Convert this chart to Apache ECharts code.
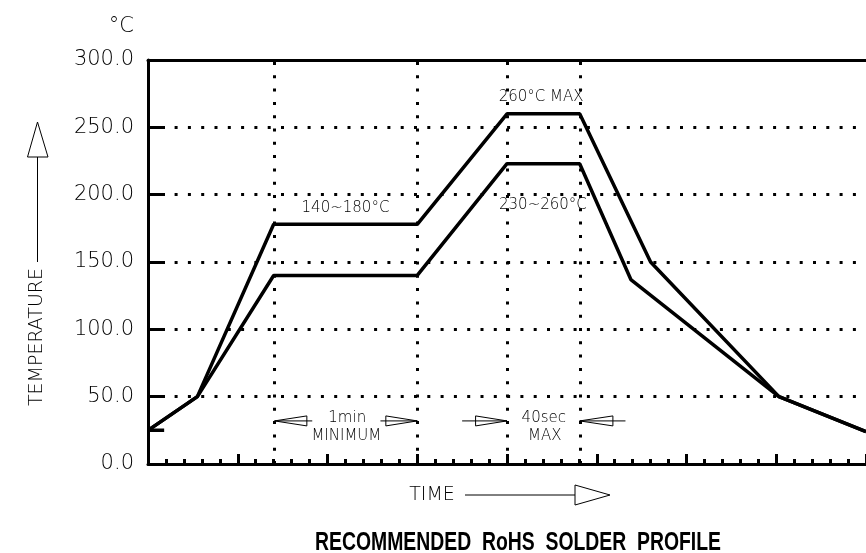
<!DOCTYPE html>
<html>
<head>
<meta charset="utf-8">
<script src="https://cdn.jsdelivr.net/npm/echarts@6/dist/echarts.min.js"></script>
<style>
html, body { margin: 0; padding: 0; background: #fff; }
#chart { width: 866px; height: 553px; }
</style>
</head>
<body>
<div id="chart"></div>
<script>
// time axis counted in minor ticks, temperature in °C
const upperProfile = [[0, 25], [2.75, 50], [7, 178], [15, 178], [20, 260], [24.05, 260], [28, 150], [35.15, 50], [40, 24]];
const lowerProfile = [[0, 25], [2.75, 50], [7, 140], [15, 140], [20, 223], [24.05, 223], [26.9, 137], [35.15, 50], [40, 24]];
const zoneMarks = [7.05, 15, 20, 24.1];
const startTick = [[0, 25], [0.9, 25]];
// [x, temp, text]
const notes = [
    [11.0, 190, '140~180°C'],
    [21.9, 272.5, '260°C MAX'],
    [22.0, 192, '230~260°C'],
    [11.1, 34, '1min'],
    [11.05, 20.8, 'MINIMUM'],
    [22.05, 34, '40sec'],
    [22.1, 20.8, 'MAX']
];
// [tip x, base x, tail x, temp]
const arrows = [
    [7.05, 8.85, 9.15, 32],
    [15, 13.25, 12.95, 32],
    [20, 18.25, 17.5, 32],
    [24.05, 25.9, 26.6, 32]
];
const titleText = 'RECOMMENDED  RoHS  SOLDER  PROFILE';

const thin = '"DejaVu Sans"';
const dots = [3, 10.3];

// squeeze the bold title to the narrow width of the original lettering
const titleFont = 'bold 25px "Liberation Sans", Arial, sans-serif';
const measure = document.createElement('canvas').getContext('2d');
measure.font = titleFont;
const titleScale = 406 / measure.measureText(titleText).width;

let chart = echarts.init(document.getElementById('chart'));

const option = {
    animation: false,
    grid: {left: 148, top: 60, width: 724, height: 404},
    xAxis: [
        {
            type: 'value',
            min: 0,
            max: 40,
            interval: 5,
            axisLine: {lineStyle: {color: '#000', width: 3}},
            axisTick: {inside: true, length: 10, lineStyle: {color: '#000', width: 3}},
            minorTick: {show: true, splitNumber: 5, length: 5, lineStyle: {color: '#000', width: 3}},
            axisLabel: {show: false},
            splitLine: {show: false}
        },
        {
            type: 'value',
            position: 'top',
            min: 0,
            max: 40,
            axisLine: {lineStyle: {color: '#000', width: 3}},
            axisTick: {show: false},
            axisLabel: {show: false},
            splitLine: {show: false}
        }
    ],
    yAxis: {
        type: 'value',
        min: 0,
        max: 300,
        interval: 50,
        axisLine: {show: true, lineStyle: {color: '#000', width: 3}},
        axisTick: {show: true, inside: true, length: 17, lineStyle: {color: '#000', width: 3}},
        axisLabel: {
            margin: 14,
            fontFamily: 'DejaVu Sans',
            fontWeight: 200,
            fontSize: 21,
            color: '#000',
            formatter: v => v.toFixed(1)
        },
        splitLine: {lineStyle: {color: '#000', width: 3, type: dots}}
    },
    graphic: [
        {type: 'text', x: 134, y: 27, style: {text: '°C', font: '200 21px ' + thin, fill: '#000', align: 'right', verticalAlign: 'middle'}},
        {type: 'text', x: 37, y: 337, rotation: Math.PI / 2, style: {text: 'TEMPERATURE', font: '200 19px ' + thin, fill: '#000', align: 'center', verticalAlign: 'middle'}},
        {type: 'line', shape: {x1: 37.5, y1: 157, x2: 37.5, y2: 262}, style: {stroke: '#000', lineWidth: 1}},
        {type: 'polygon', shape: {points: [[37.5, 122], [27.5, 157], [48, 157]]}, style: {fill: 'none', stroke: '#000', lineWidth: 1}},
        {type: 'text', x: 432, y: 495, style: {text: 'TIME', font: '200 19px ' + thin, fill: '#000', align: 'center', verticalAlign: 'middle'}},
        {type: 'line', shape: {x1: 465, y1: 495, x2: 575, y2: 495}, style: {stroke: '#000', lineWidth: 1}},
        {type: 'polygon', shape: {points: [[610, 495], [575, 485], [575, 505]]}, style: {fill: 'none', stroke: '#000', lineWidth: 1}},
        {type: 'text', x: 518, y: 543, scaleX: titleScale, style: {text: titleText, font: titleFont, fill: '#000', align: 'center', verticalAlign: 'middle'}}
    ],
    series: [
        {
            name: 'upper',
            type: 'line',
            data: upperProfile,
            symbol: 'none',
            lineStyle: {color: '#000', width: 3.5},
            z: 5,
            markLine: {
                silent: true,
                symbol: 'none',
                label: {show: false},
                lineStyle: {color: '#000', width: 3, type: dots},
                data: zoneMarks.map(x => ({xAxis: x}))
            }
        },
        {
            name: 'lower',
            type: 'line',
            data: lowerProfile,
            symbol: 'none',
            lineStyle: {color: '#000', width: 3.5},
            z: 5
        },
        {
            name: 'start',
            type: 'line',
            data: startTick,
            symbol: 'none',
            lineStyle: {color: '#000', width: 3.5},
            z: 5
        },
        {
            name: 'notes',
            type: 'custom',
            data: notes,
            z: 6,
            renderItem(params, api) {
                const p = api.coord([api.value(0), api.value(1)]);
                return {
                    type: 'text',
                    x: p[0],
                    y: p[1],
                    style: {
                        text: notes[params.dataIndex][2],
                        font: '200 15px ' + thin,
                        fill: '#000',
                        align: 'center',
                        verticalAlign: 'middle'
                    }
                };
            }
        },
        {
            name: 'arrows',
            type: 'custom',
            data: arrows,
            z: 6,
            renderItem(params, api) {
                const tip = api.coord([api.value(0), api.value(3)]);
                const base = api.coord([api.value(1), api.value(3)]);
                const tail = api.coord([api.value(2), api.value(3)]);
                return {
                    type: 'group',
                    children: [
                        {
                            type: 'polygon',
                            shape: {points: [tip, [base[0], base[1] - 5], [base[0], base[1] + 5]]},
                            style: {fill: 'none', stroke: '#000', lineWidth: 1}
                        },
                        {
                            type: 'line',
                            shape: {x1: tip[0], y1: tip[1], x2: tail[0], y2: tail[1]},
                            style: {stroke: '#000', lineWidth: 1}
                        }
                    ]
                };
            }
        }
    ]
};

chart.setOption(option);

window.addEventListener('resize', function () {
    chart.resize();
});
</script>
</body>
</html>
